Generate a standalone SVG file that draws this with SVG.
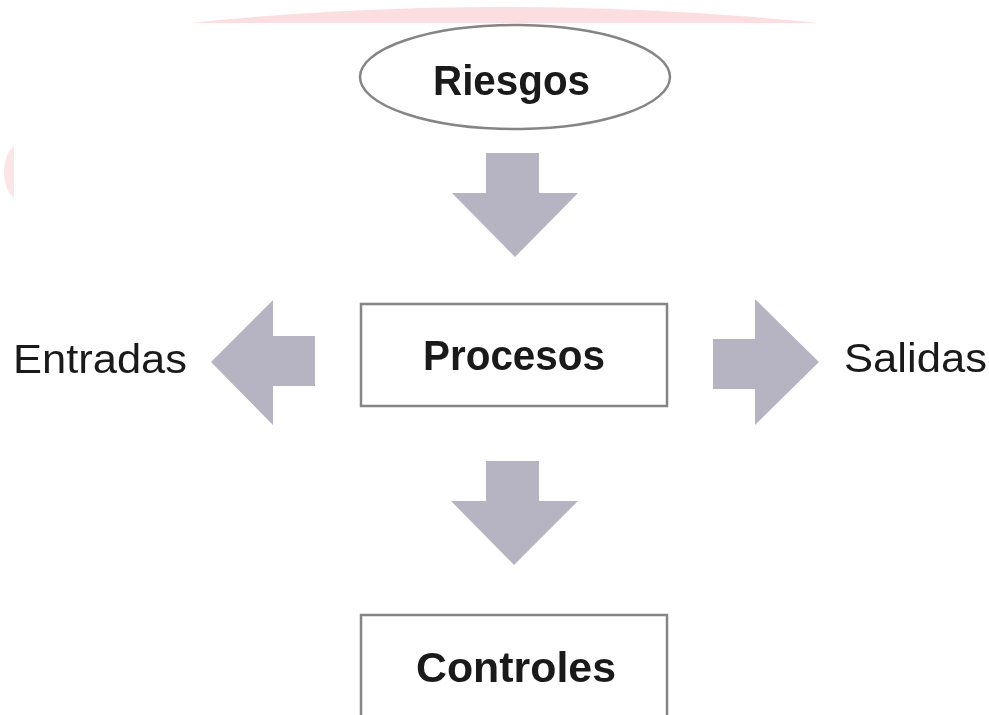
<svg xmlns="http://www.w3.org/2000/svg" width="989" height="715" viewBox="0 0 989 715">
  <defs>
    <style>
      .node-shape { fill: #ffffff; stroke: #858585; stroke-width: 2.5; }
      .arrow { fill: #b6b4c3; stroke: none; }
      .label-bold { font-family: "Liberation Sans", Arial, sans-serif; font-weight: bold; font-size: 42px; fill: #1a1a1a; }
      .label { font-family: "Liberation Sans", Arial, sans-serif; font-size: 41px; fill: #1a1a1a; }
    </style>
    <clipPath id="topclip"><rect x="0" y="0" width="989" height="23"/></clipPath>
    <clipPath id="leftclip"><rect x="0" y="0" width="14" height="715"/></clipPath>
  </defs>
  <rect x="0" y="0" width="989" height="715" fill="#ffffff"/>
  <!-- faint watermark remnants -->
  <g id="watermark" opacity="0.35">
    <g clip-path="url(#topclip)">
      <path d="M 180 24 Q 500 -10 830 24 L 830 30 L 180 30 Z" fill="#f5a0a8"/>
    </g>
    <g clip-path="url(#leftclip)">
      <ellipse cx="20" cy="172" rx="16" ry="28" fill="#f7b4ba"/>
    </g>
  </g>
  <g id="connectors">
    <polygon class="arrow" points="486,153 539,153 539,193 578,193 515,257 452,193 486,193"/>
    <polygon class="arrow" points="486,461 539,461 539,501 578,501 514,565 451,501 486,501"/>
    <polygon class="arrow" points="315,336 315,386 273,386 273,425 211,362 273,300 273,336"/>
    <polygon class="arrow" points="713,339 713,389 755,389 755,425 819,362 755,299 755,339"/>
  </g>
  <g id="riesgos">
    <ellipse class="node-shape" cx="515" cy="77" rx="155" ry="52" stroke-width="2"/>
    <text class="label-bold" x="433" y="95" textLength="157" lengthAdjust="spacingAndGlyphs">Riesgos</text>
  </g>
  <g id="procesos">
    <rect class="node-shape" x="361" y="304" width="306" height="102"/>
    <text class="label-bold" x="423" y="370" textLength="182" lengthAdjust="spacingAndGlyphs">Procesos</text>
  </g>
  <g id="controles">
    <rect class="node-shape" x="361" y="615" width="306" height="110"/>
    <text class="label-bold" x="416" y="682" textLength="200" lengthAdjust="spacingAndGlyphs">Controles</text>
  </g>
  <g id="entradas">
    <text class="label" x="13" y="373" textLength="174" lengthAdjust="spacingAndGlyphs">Entradas</text>
  </g>
  <g id="salidas">
    <text class="label" x="844" y="372" textLength="143" lengthAdjust="spacingAndGlyphs">Salidas</text>
  </g>
</svg>
